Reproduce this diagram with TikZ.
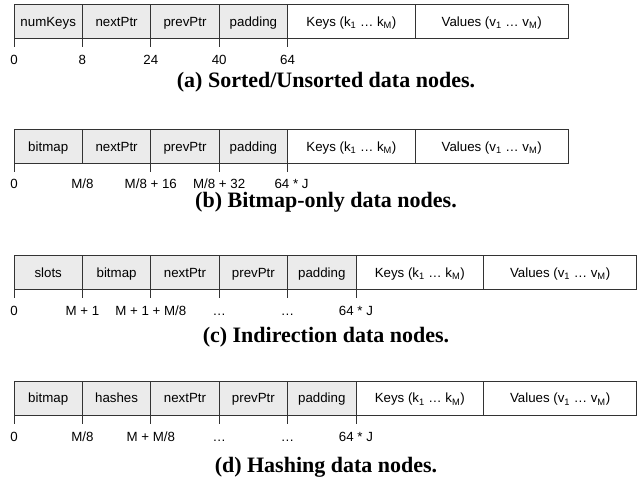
\documentclass[tikz,border=0pt]{standalone}
\usepackage{fontspec}
\setmainfont{Liberation Sans}
\newfontfamily\capfont{Liberation Serif}
\usetikzlibrary{positioning}
\definecolor{cellgray}{gray}{0.92}
\definecolor{linegray}{gray}{0.2}
\tikzset{cell/.style={rectangle,draw=linegray,line width=.8pt,minimum height=34pt,minimum width=68.4pt,
                      inner sep=0pt,outer sep=0pt,text height=10.5pt,text depth=0.5pt,
                      font=\fontsize{13.3}{15}\selectfont},
         head/.style={cell,fill=cellgray},
         keycell/.style={cell,minimum width=127.6pt},
         valcell/.style={cell,minimum width=153pt},
         tickline/.style={draw=linegray,line width=.8pt},
         offlbl/.style={anchor=base,inner sep=0pt,font=\fontsize{13.3}{15}\selectfont},
         capstyle/.style={font=\capfont\bfseries\fontsize{22}{26}\selectfont},
            }

\begin{document}
\begin{tikzpicture}[x=1pt,y=-1pt]
    \useasboundingbox (0,0) rectangle (638,478);

    % (a) sorted / unsorted
    \node[head,anchor=north west] (a1) at (14,4.5) {numKeys};
    \node[head] (a2) [right=0pt of a1] {nextPtr};
    \node[head] (a3) [right=0pt of a2] {prevPtr};
    \node[head] (a4) [right=0pt of a3] {padding};
    \node[keycell] (a5) [right=0pt of a4] {Keys (k\textsubscript{1} … k\textsubscript{M})};
    \node[valcell] (a6) [right=0pt of a5] {Values (v\textsubscript{1} … v\textsubscript{M})};

    \path[tickline]
    (a1.south west) -- +(0,9)
    (a2.south west) -- +(0,9)
    (a3.south west) -- +(0,9)
    (a4.south west) -- +(0,9)
    (a5.south west) -- +(0,9);

    \node[offlbl] (la1) at ([yshift=-26pt]a1.south west) {0};
    \node[offlbl] (la2) at ([yshift=-26pt]a2.south west) {8};
    \node[offlbl] (la3) at ([yshift=-26pt]a3.south west) {24};
    \node[offlbl] (la4) at ([yshift=-26pt]a4.south west) {40};
    \node[offlbl] (la5) at ([yshift=-26pt]a5.south west) {64};

    \node[capstyle] (capa) at (326,82) {(a) Sorted/Unsorted data nodes.};

    % (b) bitmap-only
    \node[head,anchor=north west] (b1) at (14,129.3) {bitmap};
    \node[head] (b2) [right=0pt of b1] {nextPtr};
    \node[head] (b3) [right=0pt of b2] {prevPtr};
    \node[head] (b4) [right=0pt of b3] {padding};
    \node[keycell] (b5) [right=0pt of b4] {Keys (k\textsubscript{1} … k\textsubscript{M})};
    \node[valcell] (b6) [right=0pt of b5] {Values (v\textsubscript{1} … v\textsubscript{M})};

    \path[tickline]
    (b1.south west) -- +(0,9)
    (b3.south west) -- +(0,9)
    (b4.south west) -- +(0,9)
    (b5.south west) -- +(0,9);

    \node[offlbl] (lb1) at ([yshift=-25pt]b1.south west) {0};
    \node[offlbl] (lb2) at ([yshift=-25pt]b2.south west) {M/8};
    \node[offlbl] (lb3) at ([yshift=-25pt]b3.south west) {M/8 + 16};
    \node[offlbl] (lb4) at ([yshift=-25pt]b4.south west) {M/8 + 32};
    \node[offlbl] (lb5) at ([xshift=4pt,yshift=-25pt]b5.south west) {64 * J};

    \node[capstyle] (capb) at (326,202) {(b) Bitmap-only data nodes.};

    % (c) indirection
    \node[head,anchor=north west] (c1) at (14,255.5) {slots};
    \node[head] (c2) [right=0pt of c1] {bitmap};
    \node[head] (c3) [right=0pt of c2] {nextPtr};
    \node[head] (c4) [right=0pt of c3] {prevPtr};
    \node[head] (c5) [right=0pt of c4] {padding};
    \node[keycell] (c6) [right=0pt of c5] {Keys (k\textsubscript{1} … k\textsubscript{M})};
    \node[valcell] (c7) [right=0pt of c6] {Values (v\textsubscript{1} … v\textsubscript{M})};

    \path[tickline]
    (c1.south west) -- +(0,9)
    (c2.south west) -- +(0,9)
    (c3.south west) -- +(0,9)
    (c4.south west) -- +(0,9)
    (c5.south west) -- +(0,9)
    (c6.south west) -- +(0,9);

    \node[offlbl] (lc1) at ([yshift=-26.5pt]c1.south west) {0};
    \node[offlbl] (lc2) at ([yshift=-26.5pt]c2.south west) {M + 1};
    \node[offlbl] (lc3) at ([yshift=-26.5pt]c3.south west) {M + 1 + M/8};
    \node[offlbl] (lc4) at ([yshift=-26.5pt]c4.south west) {…};
    \node[offlbl] (lc5) at ([yshift=-26.5pt]c5.south west) {…};
    \node[offlbl] (lc6) at ([yshift=-26.5pt]c6.south west) {64 * J};

    \node[capstyle] (capc) at (326,337) {(c) Indirection data nodes.};

    % (d) hashing
    \node[head,anchor=north west] (d1) at (14,381) {bitmap};
    \node[head] (d2) [right=0pt of d1] {hashes};
    \node[head] (d3) [right=0pt of d2] {nextPtr};
    \node[head] (d4) [right=0pt of d3] {prevPtr};
    \node[head] (d5) [right=0pt of d4] {padding};
    \node[keycell] (d6) [right=0pt of d5] {Keys (k\textsubscript{1} … k\textsubscript{M})};
    \node[valcell] (d7) [right=0pt of d6] {Values (v\textsubscript{1} … v\textsubscript{M})};

    \path[tickline]
    (d1.south west) -- +(0,9)
    (d2.south west) -- +(0,9)
    (d3.south west) -- +(0,9)
    (d4.south west) -- +(0,9)
    (d5.south west) -- +(0,9)
    (d6.south west) -- +(0,9);

    \node[offlbl] (ld1) at ([yshift=-27pt]d1.south west) {0};
    \node[offlbl] (ld2) at ([yshift=-27pt]d2.south west) {M/8};
    \node[offlbl] (ld3) at ([yshift=-27pt]d3.south west) {M + M/8};
    \node[offlbl] (ld4) at ([yshift=-27pt]d4.south west) {…};
    \node[offlbl] (ld5) at ([yshift=-27pt]d5.south west) {…};
    \node[offlbl] (ld6) at ([yshift=-27pt]d6.south west) {64 * J};

    \node[capstyle] (capd) at (326,467) {(d) Hashing data nodes.};

\end{tikzpicture}
\end{document}
